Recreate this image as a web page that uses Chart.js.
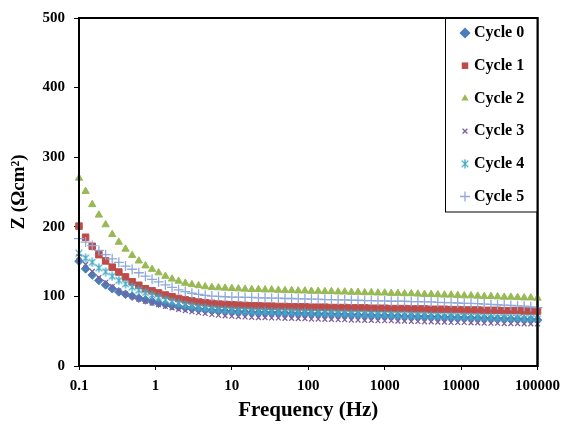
<!DOCTYPE html>
<html><head><meta charset="utf-8">
<script src="https://cdn.jsdelivr.net/npm/chart.js@4.4.1/dist/chart.umd.min.js"></script>
<style>html,body{margin:0;padding:0;background:#fff;} #wrap{width:567px;height:427px;position:relative;}</style>
</head><body><div id="wrap"><canvas id="c" width="567" height="427"></canvas></div>
<script>
const frequencies = [0.1,0.122,0.149,0.182,0.223,0.272,0.332,0.406,0.496,0.606,0.740,0.904,1.10,1.35,1.65,2.01,2.46,3.00,3.67,4.48,5.48,6.69,8.17,
 10,12.2,14.9,18.2,22.3,27.2,33.2,40.6,49.6,60.6,74.0,90.4,110,135,165,201,246,300,367,448,548,669,817,
 1000,1220,1490,1820,2230,2720,3320,4060,4960,6060,7400,9040,11000,13500,16500,20100,24600,30000,36700,44800,54800,66900,81700,100000];

const cycle0 = [150.6,139.6,130.7,123,116.5,111,106.5,103,100.4,97.5,
 95,92.8,90.3,88.5,86.6,85,83.8,82.4,81.4,80.5,
 79.5,79,78.5,78,77.5,77,77,76.5,76.5,76,
 76,75.5,75.5,75,75,74.5,74.5,74,74,73.5,
 73.5,73,73,72.5,72.5,72,72,71.5,71.5,71,
 71,70.5,70.5,70,70,69.5,69.5,69,69,68.5,
 68.5,68,68,67.5,67.5,67,67,66.5,66.5,66];
const cycle1 = [201,185,172,160,151,142,135,128,121,116,
 111,108,105,102,99.5,97,95,93.5,92,91,
 90,89,88.5,88,87.5,87,86.5,86.5,86,86,
 85.5,85.5,85,85,85,84.5,84.5,84.5,84,84,
 84,83.5,83.5,83.5,83,83,83,82.5,82.5,82.5,
 82,82,82,81.5,81.5,81.5,81,81,80.5,80.5,
 80.5,80,80,80,79.5,79.5,79.5,79,79,79];
const cycle2 = [270,251,232,217,203,189,178,168,159,151,
 144,139,134,129,125,122,119,117,115.5,114,
 113,112.5,112,111.5,111,110.5,110,110,109.5,109.5,
 109,108.5,108.5,108,108,107.5,107.5,107,107,106.5,
 106.5,106,106,105.5,105.5,105,105,104.5,104.5,104,
 104,103.5,103,103,102.5,102,102,101.5,101,101,
 100.5,100,100,99.5,99,99,98.5,98,98,97.5];
const cycle3 = [157,146,136,127,120,114,108,103.5,99.5,96,
 93,90.5,88,85.5,83.5,81.5,79.5,78,76.5,75.5,
 74,73,72,71.5,71,70.5,70,69.5,69.5,69,
 69,68.5,68.5,68,68,67.5,67.5,67,67,66.5,
 66.5,66,66,65.5,65.5,65,65,65,64.5,64.5,
 64,64,63.5,63.5,63,63,62.5,62.5,62.5,62,
 62,61.5,61.5,61.5,61,61,61,60.5,60.5,60.5];
const cycle4 = [162,155,149,141,135.5,129,123,118,113.5,109,
 105.5,102,98.5,95,92.5,90,88,86,84,83,
 82,81,80.5,80,79.5,79,79,78.5,78.5,78,
 78,77.5,77.5,77,77,76.5,76.5,76,76,75.5,
 75.5,75,75,74.5,74.5,74,74,73.5,73.5,73,
 73,72.5,72.5,72,72,71.5,71.5,71,71,70.5,
 70.5,70,70,69.5,69.5,69,69,68.5,68.5,68];
const cycle5 = [183,178,173,166,160,154,149,143.5,139,134,
 129,124.5,121,116.5,113,109.5,107,104.5,103,101.5,
 100.5,100,99.5,99,99,98.5,98.5,98,98,97.5,
 97.5,97,97,96.5,96.5,96,96,95.5,95.5,95,
 95,94.5,94.5,94,94,93.5,93.5,93,93,93,
 92.5,92.5,92,92,91.5,91,91,90.5,90,90,
 89.5,89,88.5,88,87.5,87,86.5,86,85,84];

const seriesNames = ['Cycle 0','Cycle 1','Cycle 2','Cycle 3','Cycle 4','Cycle 5'];
const seriesValues = [cycle0, cycle1, cycle2, cycle3, cycle4, cycle5];
const xTickValues = [0.1,1,10,100,1000,10000,100000];
const xTickLabels = ['0.1','1','10','100','1000','10000','100000'];
const yTickValues = [0,100,200,300,400,500];
const xTitle = 'Frequency (Hz)';
const yTitle = 'Z (Ωcm²)';

function asterisk(color, size, lw) {
  const c = document.createElement('canvas');
  c.width = size; c.height = size;
  const g = c.getContext('2d');
  g.strokeStyle = color; g.lineWidth = lw;
  const m = size / 2, r = size / 2 - 0.5, d = r * 0.75;
  g.beginPath();
  g.moveTo(m - d, m - d); g.lineTo(m + d, m + d);
  g.moveTo(m + d, m - d); g.lineTo(m - d, m + d);
  g.moveTo(m, m - r); g.lineTo(m, m + r);
  g.stroke();
  return c;
}

const styles = [
  {color:'#4a7ebb', pointStyle:'rectRot', radius:4.3, bw:1},
  {color:'#be4b48', pointStyle:'rect', radius:4.6, bw:1},
  {color:'#98b954', pointStyle:'triangle', radius:4.2, bw:1},
  {color:'#7d60a0', pointStyle:'crossRot', radius:3.4, bw:1.3},
  {color:'#46aac5', pointStyle:asterisk('#46aac5', 10, 1.4), radius:5, bw:1},
  {color:'#8fa9d9', pointStyle:'cross', radius:5, bw:1.3}
];

const datasets = seriesNames.map((name, i) => ({
  label: name,
  data: frequencies.map((f, k) => ({x: f, y: seriesValues[i][k]})),
  showLine: false,
  pointStyle: styles[i].pointStyle,
  pointRadius: styles[i].radius,
  pointHoverRadius: styles[i].radius,
  pointBorderWidth: styles[i].bw,
  borderColor: styles[i].color,
  backgroundColor: styles[i].color,
  order: 5 - i,
  clip: false
}));

const serif = "'Liberation Serif', 'Times New Roman', serif";

const framePlugin = {
  id: 'frame',
  beforeDatasetsDraw(chart) {
    const {ctx, chartArea: a} = chart;
    ctx.save();
    ctx.strokeStyle = '#000';
    ctx.lineWidth = 2;
    ctx.strokeRect(a.left, a.top, a.right - a.left, a.bottom - a.top);
    ctx.restore();
  }
};

function drawMarker(ctx, st, x, y, scale) {
  const r = st.radius * scale;
  ctx.save();
  ctx.fillStyle = st.color; ctx.strokeStyle = st.color; ctx.lineWidth = st.bw;
  const ps = st.pointStyle;
  if (typeof ps !== 'string') {
    ctx.drawImage(ps, x - ps.width / 2, y - ps.height / 2);
  } else if (ps === 'rectRot') {
    ctx.beginPath(); ctx.moveTo(x - r, y); ctx.lineTo(x, y - r); ctx.lineTo(x + r, y); ctx.lineTo(x, y + r); ctx.closePath(); ctx.fill();
  } else if (ps === 'rect') {
    const s = r * Math.SQRT1_2; ctx.fillRect(x - s, y - s, 2 * s, 2 * s);
  } else if (ps === 'triangle') {
    ctx.beginPath(); ctx.moveTo(x, y - r); ctx.lineTo(x + r * 0.866, y + r * 0.5); ctx.lineTo(x - r * 0.866, y + r * 0.5); ctx.closePath(); ctx.fill();
  } else if (ps === 'crossRot') {
    const s = r * Math.SQRT1_2; ctx.beginPath(); ctx.moveTo(x - s, y - s); ctx.lineTo(x + s, y + s); ctx.moveTo(x + s, y - s); ctx.lineTo(x - s, y + s); ctx.stroke();
  } else if (ps === 'cross') {
    ctx.beginPath(); ctx.moveTo(x - r, y); ctx.lineTo(x + r, y); ctx.moveTo(x, y - r); ctx.lineTo(x, y + r); ctx.stroke();
  }
  ctx.restore();
}

const legendPlugin = {
  id: 'boxLegend',
  afterDraw(chart) {
    const {ctx, chartArea: a} = chart;
    const left = 445, top = a.top, right = a.right, bottom = 212;
    ctx.save();
    ctx.fillStyle = '#fff';
    ctx.fillRect(left, top, right - left, bottom - top);
    ctx.strokeStyle = '#000'; ctx.lineWidth = 1;
    ctx.strokeRect(left + 0.5, top, right - left - 0.5, bottom - top);
    ctx.lineWidth = 2;
    ctx.strokeRect(a.left, a.top, a.right - a.left, a.bottom - a.top);
    ctx.font = "bold 16px " + serif;
    ctx.fillStyle = '#000';
    ctx.textBaseline = 'middle';
    ctx.textAlign = 'left';
    seriesNames.forEach((name, i) => {
      const y = 33 + i * 32.7;
      drawMarker(ctx, styles[i], 465, y, i === 0 ? 1.3 : 1);
      ctx.fillText(name, 474, y);
    });
    ctx.restore();
  }
};

new Chart(document.getElementById('c'), {
  type: 'scatter',
  data: {datasets},
  options: {
    responsive: false,
    animation: false,
    devicePixelRatio: 1,
    events: [],
    layout: {padding: {left: 0, right: 24, top: 14, bottom: 0}},
    plugins: {legend: {display: false}, tooltip: {enabled: false}},
    scales: {
      x: {
        type: 'logarithmic',
        min: 0.1, max: 100000,
        afterBuildTicks: s => { s.ticks = xTickValues.map(v => ({value: v})); },
        afterFit: s => { s.height = 61; },
        border: {display: false},
        grid: {drawOnChartArea: false, drawTicks: true, tickLength: 4, color: '#000', lineWidth: 1},
        ticks: {
          autoSkip: false, maxRotation: 0, padding: 7, color: '#000',
          font: {family: serif, size: 15, weight: 'bold'},
          callback: (v) => { const i = xTickValues.indexOf(v); return i >= 0 ? xTickLabels[i] : ''; }
        },
        title: {display: true, text: xTitle, color: '#000', font: {family: serif, size: 21, weight: 'bold'}, padding: {top: 0, bottom: 4}}
      },
      y: {
        min: 0, max: 500,
        afterBuildTicks: s => { s.ticks = yTickValues.map(v => ({value: v})); },
        afterFit: s => { s.width = 79; },
        border: {display: false},
        grid: {drawOnChartArea: false, drawTicks: true, tickLength: 5, color: '#000', lineWidth: 1},
        ticks: {padding: 9, color: '#000', font: {family: serif, size: 15, weight: 'bold'}},
        title: {display: true, text: yTitle, color: '#000', font: {family: serif, size: 19, weight: 'bold'}, padding: {top: 8, bottom: 0}}
      }
    }
  },
  plugins: [framePlugin, legendPlugin]
});
</script>
</body></html>
